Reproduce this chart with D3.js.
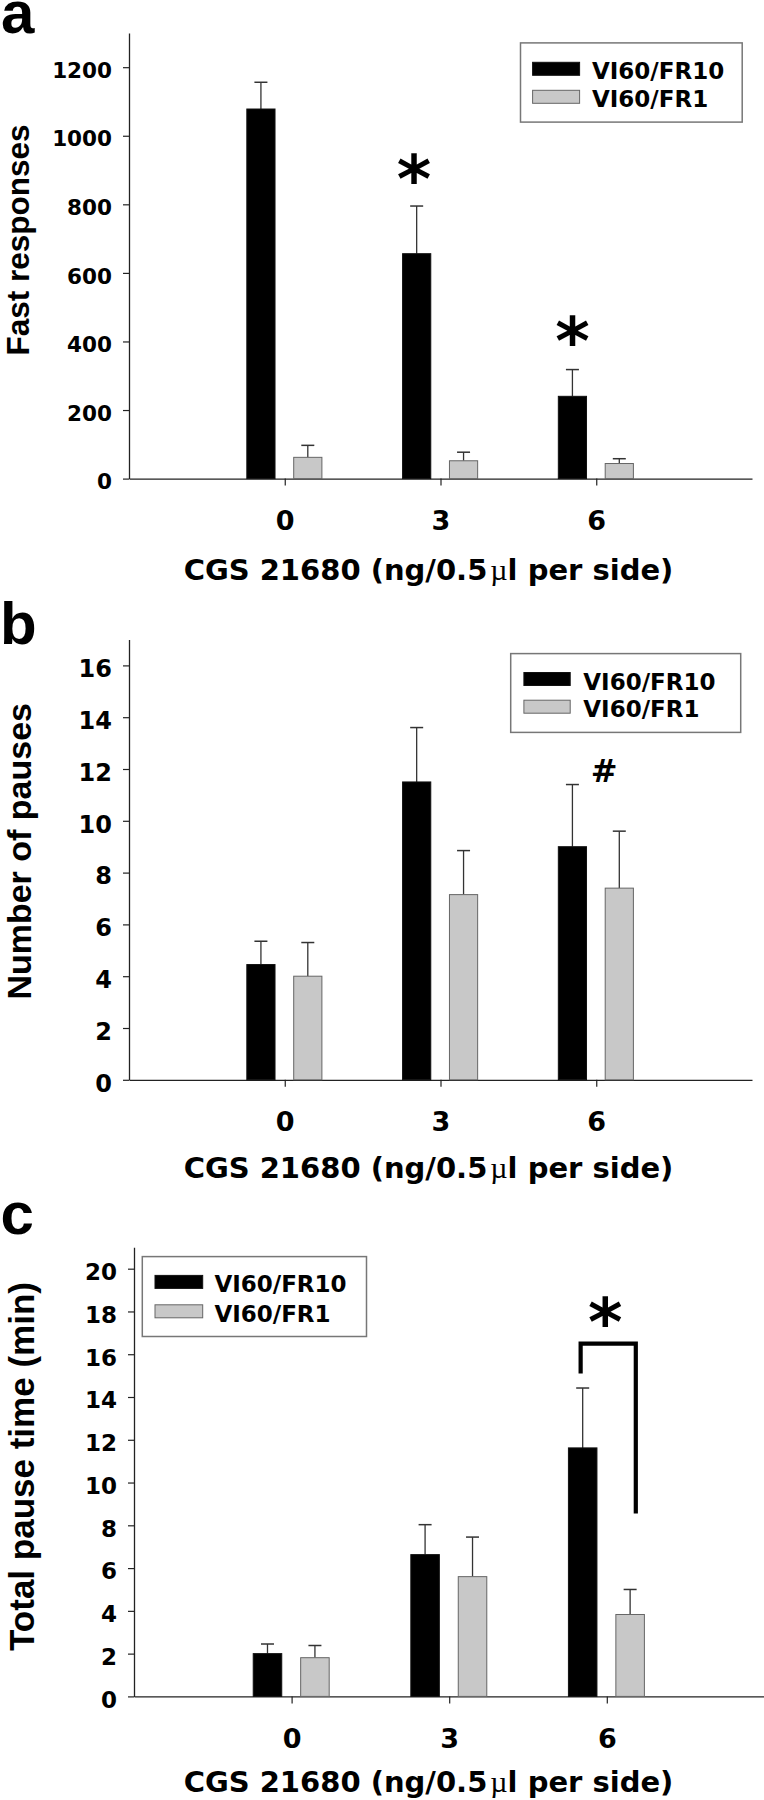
<!DOCTYPE html>
<html>
<head>
<meta charset="utf-8">
<script src="https://cdn.jsdelivr.net/npm/d3@7"></script>
<style>
  html, body { margin: 0; padding: 0; background: #fff; }
  svg { display: block; }
</style>
</head>
<body>
<svg id="chart" width="764" height="1800"></svg>
<script>
// ---------------- DATA ----------------
const categories = ["0", "3", "6"];
const seriesNames = ["VI60/FR10", "VI60/FR1"];

// Panel a: Fast responses
const fastMeanFR10 = [1078, 656, 240];
const fastSemFR10  = [78, 139, 78];
const fastMeanFR1  = [62, 52, 44];
const fastSemFR1   = [35, 25, 14];
const fastTicks    = [0, 200, 400, 600, 800, 1000, 1200];

// Panel b: Number of pauses
const pausesMeanFR10 = [4.45, 11.5, 9.0];
const pausesSemFR10  = [0.9, 2.1, 2.4];
const pausesMeanFR1  = [4.0, 7.15, 7.4];
const pausesSemFR1   = [1.3, 1.7, 2.2];
const pausesTicks    = [0, 2, 4, 6, 8, 10, 12, 14, 16];

// Panel c: Total pause time (min)
const timeMeanFR10 = [2.0, 6.63, 11.62];
const timeSemFR10  = [0.45, 1.4, 2.8];
const timeMeanFR1  = [1.81, 5.6, 3.83];
const timeSemFR1   = [0.57, 1.85, 1.17];
const timeTicks    = [0, 2, 4, 6, 8, 10, 12, 14, 16, 18, 20];

// Significance marks (x in category units, y in value units)
const fastStarX = [1.83, 2.848];
const fastStarY = [912, 439];
const pausesHashX = [3.05];
const pausesHashY = [11.95];
const timeStarX = [2.99];
const timeStarY = [18.15];
const timeBracketX = [2.834, 3.184];
const timeBracketY = [15.1, 16.5, 8.55];

const xLabelMain = "CGS 21680 (ng/0.5";
const xLabelMu = "\u00B5";
const xLabelTail = "l per side)";

// ---------------- LAYOUT ----------------
const panels = [
  { letter: "a", letterX: 1, letterY: 33,
    mean10: fastMeanFR10, sem10: fastSemFR10, mean1: fastMeanFR1, sem1: fastSemFR1,
    ticks: fastTicks, yMax: 1300, x0: 129, x1: 752, yBottom: 478.6, yTop: 32.9,
    tickFont: 21.5, title: "Fast responses", titleX: 29, titleY: 240, titleFont: 31.5,
    xLabelY: 580,
    legend: { x: 520.5, y: 42.9, w: 221.7, h: 79.2, sx: 532.6, sw: 47, tx: 592, b1: 79.3, b2: 107.3 },
    marks: { text: "*", xs: fastStarX, ys: fastStarY, size: 66, shift: 0.55 } },
  { letter: "b", letterX: 0, letterY: 644,
    mean10: pausesMeanFR10, sem10: pausesSemFR10, mean1: pausesMeanFR1, sem1: pausesSemFR1,
    ticks: pausesTicks, yMax: 17, x0: 129, x1: 752, yBottom: 1079.8, yTop: 639.5,
    tickFont: 24, title: "Number of pauses", titleX: 31, titleY: 851.3, titleFont: 34,
    xLabelY: 1178,
    legend: { x: 510.7, y: 653.6, w: 230, h: 78.8, sx: 523.9, sw: 46.3, tx: 583.3, b1: 689.5, b2: 717.2 },
    marks: { text: "#", xs: pausesHashX, ys: pausesHashY, size: 32, shift: -0.36 } },
  { letter: "c", letterX: 0.5, letterY: 1234,
    mean10: timeMeanFR10, sem10: timeSemFR10, mean1: timeMeanFR1, sem1: timeSemFR1,
    ticks: timeTicks, yMax: 21, x0: 134, x1: 764.4, yBottom: 1696.4, yTop: 1247.3,
    tickFont: 23, title: "Total pause time (min)", titleX: 33.5, titleY: 1466.5, titleFont: 35,
    xLabelY: 1791.5,
    legend: { x: 142.3, y: 1256.6, w: 224.2, h: 79.9, sx: 155, sw: 47.7, tx: 214.4, b1: 1292.4, b2: 1321.8 },
    marks: { text: "*", xs: timeStarX, ys: timeStarY, size: 66, shift: 0.55 },
    bracket: { xs: timeBracketX, ys: timeBracketY } }
];

const svg = d3.select("#chart");
svg.append("rect").attr("width", 764).attr("height", 1800).attr("fill", "#fff");

const SANS = "'DejaVu Sans', Verdana, sans-serif";
const ARIAL = "'Liberation Sans', Arial, sans-serif";
const BLACK = "#000";
const GRAY = "#c8c8c8";
const AXIS = "#222";

panels.forEach(p => {
  const g = svg.append("g");
  const x = d3.scaleLinear().domain([0, 4]).range([p.x0, p.x1]);
  const y = d3.scaleLinear().domain([0, p.yMax]).range([p.yBottom, p.yTop]);
  const unit = x(1) - x(0);
  const barW = unit * 0.181;
  const off10 = -unit * 0.153;
  const off1 = unit * 0.148;

  // Panel letter
  g.append("text").attr("x", p.letterX).attr("y", p.letterY)
    .attr("font-family", ARIAL).attr("font-weight", "bold").attr("font-size", 60)
    .attr("fill", "#000").text(p.letter);

  // Y axis
  const yAxis = g.append("g").attr("transform", `translate(${p.x0},0)`)
    .call(d3.axisLeft(y).tickValues(p.ticks).tickSize(6).tickSizeOuter(0).tickPadding(11)
      .tickFormat(d3.format("d")));
  yAxis.selectAll("text").attr("dy", "0.47em")
    .attr("font-family", SANS).attr("font-weight", "bold").attr("font-size", p.tickFont).attr("fill", "#000");
  yAxis.select(".domain").attr("stroke", AXIS).attr("stroke-width", 1.3);
  yAxis.selectAll(".tick line").attr("stroke", AXIS).attr("stroke-width", 1.2);

  // X axis
  const xAxis = g.append("g").attr("transform", `translate(0,${p.yBottom})`)
    .call(d3.axisBottom(x).tickValues([1, 2, 3]).tickSize(7).tickSizeOuter(0).tickPadding(25)
      .tickFormat(d => categories[d - 1]));
  xAxis.selectAll("text")
    .attr("font-family", SANS).attr("font-weight", "bold").attr("font-size", 27).attr("fill", "#000");
  xAxis.select(".domain").attr("stroke", AXIS).attr("stroke-width", 1.3);
  xAxis.selectAll(".tick line").attr("stroke", AXIS).attr("stroke-width", 1.2);

  // Bars and error bars
  const series = [
    { mean: p.mean10, sem: p.sem10, off: off10, fill: BLACK, stroke: "#111" },
    { mean: p.mean1, sem: p.sem1, off: off1, fill: GRAY, stroke: "#666" }
  ];
  series.forEach(s => {
    const idx = d3.range(categories.length);
    g.selectAll(null).data(idx).enter().append("line")
      .attr("x1", i => x(i + 1) + s.off).attr("x2", i => x(i + 1) + s.off)
      .attr("y1", i => y(s.mean[i])).attr("y2", i => y(s.mean[i] + s.sem[i]))
      .attr("stroke", "#333").attr("stroke-width", 1.3);
    g.selectAll(null).data(idx).enter().append("line")
      .attr("x1", i => x(i + 1) + s.off - 6.5).attr("x2", i => x(i + 1) + s.off + 6.5)
      .attr("y1", i => y(s.mean[i] + s.sem[i])).attr("y2", i => y(s.mean[i] + s.sem[i]))
      .attr("stroke", "#333").attr("stroke-width", 1.5);
    g.selectAll(null).data(idx).enter().append("rect")
      .attr("x", i => x(i + 1) + s.off - barW / 2)
      .attr("y", i => y(s.mean[i]))
      .attr("width", barW)
      .attr("height", i => y(0) - y(s.mean[i]))
      .attr("fill", s.fill).attr("stroke", s.stroke).attr("stroke-width", 1);
  });

  // Legend
  const L = p.legend;
  g.append("rect").attr("x", L.x).attr("y", L.y).attr("width", L.w).attr("height", L.h)
    .attr("fill", "#fff").attr("stroke", "#777").attr("stroke-width", 1.5);
  [[BLACK, "#111", L.b1], [GRAY, "#666", L.b2]].forEach((r, k) => {
    g.append("rect").attr("x", L.sx).attr("y", r[2] - 17).attr("width", L.sw).attr("height", 13)
      .attr("fill", r[0]).attr("stroke", r[1]).attr("stroke-width", 1);
    g.append("text").attr("x", L.tx).attr("y", r[2])
      .attr("font-family", SANS).attr("font-weight", "bold").attr("font-size", 23)
      .attr("fill", "#000").text(seriesNames[k]);
  });

  // Y title
  g.append("text")
    .attr("transform", `translate(${p.titleX},${p.titleY}) rotate(-90)`)
    .attr("text-anchor", "middle")
    .attr("font-family", ARIAL).attr("font-weight", "bold").attr("font-size", p.titleFont)
    .attr("fill", "#000").text(p.title);

  // X title
  const xt = g.append("text").attr("x", 428.5).attr("y", p.xLabelY).attr("text-anchor", "middle")
    .attr("font-family", SANS).attr("font-weight", "bold").attr("font-size", 29).attr("fill", "#000");
  xt.append("tspan").text(xLabelMain);
  xt.append("tspan").attr("dx", 3).attr("font-family", "'Liberation Serif', 'Times New Roman', serif")
    .attr("font-weight", "normal").attr("font-size", 30).text(xLabelMu);
  xt.append("tspan").text(xLabelTail);

  // Significance marks
  const M = p.marks;
  M.xs.forEach((mx, i) => {
    g.append("text").attr("x", x(mx)).attr("y", y(M.ys[i]) + M.size * Math.abs(M.shift))
      .attr("text-anchor", "middle")
      .attr("font-family", SANS).attr("font-weight", "bold").attr("font-size", M.size)
      .attr("fill", "#000").text(M.text);
  });

  // Bracket
  if (p.bracket) {
    const B = p.bracket;
    const pts = [[B.xs[0], B.ys[0]], [B.xs[0], B.ys[1]], [B.xs[1], B.ys[1]], [B.xs[1], B.ys[2]]];
    g.append("path")
      .attr("d", d3.line().x(d => x(d[0])).y(d => y(d[1]))(pts))
      .attr("fill", "none").attr("stroke", "#000").attr("stroke-width", 4.2)
      .attr("stroke-linejoin", "miter");
  }
});
</script>
</body>
</html>
